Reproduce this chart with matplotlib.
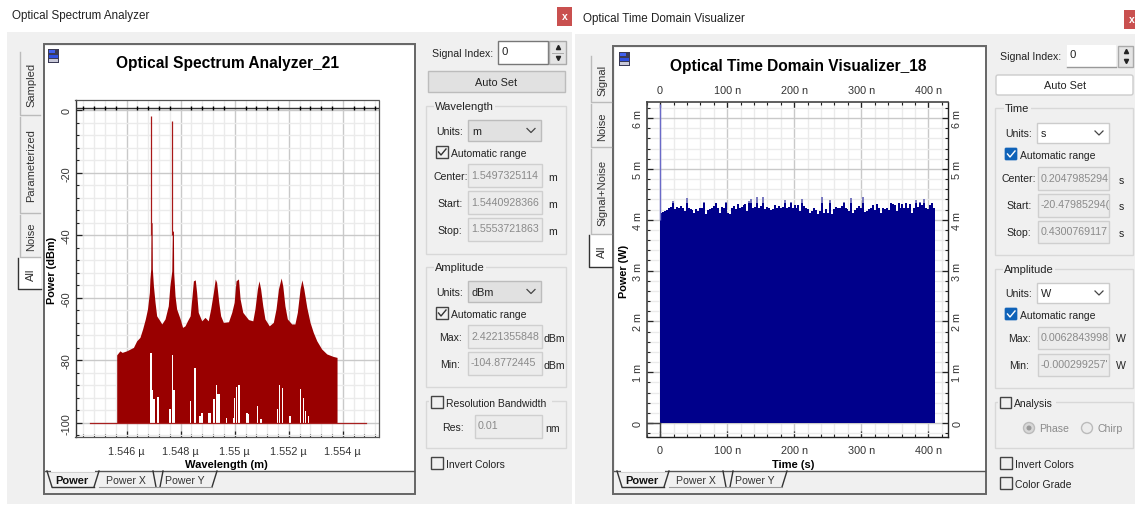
import numpy as np
import matplotlib
matplotlib.use("Agg")
import matplotlib.pyplot as plt
from matplotlib.patches import Rectangle, Circle, FancyBboxPatch

plt.rcParams["font.family"] = ["Liberation Sans", "DejaVu Sans"]

W, H = 1135, 506

# Optical spectrum (wavelength in micrometres, power in dBm)
spec_wl = [1.54563, 1.54563, 1.54575, 1.54583, 1.5460, 1.54625, 1.54637, 1.54649, 1.54659, 1.54669, 1.54677,
           1.54684, 1.54686, 1.54689, 1.5469, 1.54694, 1.54695, 1.54699, 1.54705, 1.54711, 1.54723, 1.5473,
           1.54742, 1.54754, 1.5476, 1.54767, 1.54769, 1.54773, 1.54774, 1.54779, 1.54785, 1.54798, 1.54807,
           1.54816, 1.54825, 1.54835, 1.54842, 1.54847, 1.54854, 1.54859, 1.54865, 1.54878, 1.5489, 1.54902,
           1.54911, 1.54921, 1.54928, 1.54933, 1.54941, 1.54948, 1.54958, 1.54977, 1.54989, 1.54998, 1.55005,
           1.55014, 1.5502, 1.5503, 1.55051, 1.55067, 1.55075, 1.55084, 1.5509, 1.55096, 1.55104, 1.55112,
           1.55128, 1.55143, 1.55153, 1.55162, 1.55172, 1.55178, 1.55186, 1.55195, 1.55211, 1.55223, 1.55232,
           1.55242, 1.55249, 1.55256, 1.55267, 1.55279, 1.55291, 1.55304, 1.55322, 1.55341, 1.55365, 1.55379,
           1.55379]
spec_db = [-100, -78.3, -77.0, -77.5, -77.0, -75.9, -73.8, -72.7, -70.0, -66.8, -63.6,
           -58.3, -54.0, -50.8, -36.0, -36.0, -50.8, -56.2, -61.5, -65.8, -67.4, -68.4,
           -66.8, -62.6, -56.2, -51.4, -38.7, -38.7, -51.9, -59.4, -63.6, -66.8, -69.5,
           -69.0, -67.4, -65.8, -59.4, -54.6, -54.3, -58.3, -64.7, -67.4, -66.3, -67.4,
           -63.6, -58.3, -54.0, -55.1, -61.5, -65.8, -67.9, -67.7, -64.7, -61.5, -54.6,
           -54.0, -60.4, -64.7, -67.0, -67.4, -63.6, -57.2, -54.6, -57.2, -62.6, -66.8,
           -69.0, -67.9, -63.6, -57.2, -53.7, -56.2, -62.6, -66.8, -68.4, -68.4, -64.7,
           -57.2, -54.3, -57.2, -63.1, -67.9, -71.1, -73.8, -76.4, -78.0, -78.8, -79.1,
           -100]
# the two carrier lines
line_wl = [1.546905, 1.547685]
line_db = [-1.8, -3.4]
# white gaps under the envelope
gap_wl = [1.54690, 1.54691, 1.54702, 1.54716, 1.5476, 1.54769, 1.54774, 1.54836, 1.54838, 1.54853, 1.54872,
          1.5488, 1.54906, 1.54923, 1.54933, 1.5494, 1.54968, 1.54995, 1.5500, 1.55007, 1.55016, 1.55046,
          1.55052, 1.55085, 1.55098, 1.55159, 1.55167, 1.55177, 1.55205, 1.55244, 1.55254, 1.55262, 1.55273]
gap_top = [-77.7, -89.4, -92.4, -91.9, -95.6, -78.3, -89.4, -96.5, -93.0, -82.6, -97.9,
           -96.8, -96.8, -92.4, -87.9, -90.8, -98.4, -98.4, -92.0, -88.7, -87.9, -96.8,
           -97.3, -94.8, -98.8, -95.6, -87.9, -89.0, -97.8, -89.2, -92.2, -96.2, -97.8]
gap_w = [.00004, .0001, .00007, .00005, .00006, .00003, .00009, .00004, .00004, .00004, .00007,
         .00006, .00009, .00006, .00004, .0001, .00004, .00005, .00004, .00005, .00005, .00007,
         .00004, .00004, .00007, .00006, .00005, .00005, .00005, .00004, .00005, .00004, .00003]
base_wl = [1.54464, 1.55485]
base_db = [-100, -100]
spec_xticks = [1.546, 1.548, 1.55, 1.552, 1.554]
spec_xlabels = ["1.546 µ", "1.548 µ", "1.55 µ", "1.552 µ", "1.554 µ"]
spec_yticks = [0, -20, -40, -60, -80, -100]
spec_ylabels = ["0", "-20", "-40", "-60", "-80", "-100"]

# Time domain trace: top edge of the noise in mW, one value per sample slot up to 409.6 ns
time_top = [4.14, 4.16, 4.18, 4.19, 4.24, 4.25, 4.36, 4.21, 4.25, 4.23, 4.27, 4.24, 4.18, 4.42, 4.23, 4.21, 4.19, 4.14,
            4.21, 4.18, 4.23, 4.24, 4.34, 4.12, 4.19, 4.21, 4.24, 4.27, 4.32, 4.23, 4.14, 4.25, 4.24, 4.34, 4.14, 4.11,
            4.23, 4.27, 4.21, 4.31, 4.23, 4.25, 4.29, 4.31, 4.18, 4.37, 4.40, 4.24, 4.25, 4.44, 4.23, 4.27, 4.45, 4.21,
            4.25, 4.24, 4.19, 4.21, 4.29, 4.24, 4.27, 4.23, 4.25, 4.39, 4.23, 4.25, 4.34, 4.24, 4.29, 4.23,
            4.29, 4.18, 4.40, 4.27, 4.24, 4.21, 4.14, 4.18, 4.24, 4.19, 4.12, 4.18, 4.44, 4.14, 4.21, 4.14, 4.39, 4.12,
            4.21, 4.25, 4.23, 4.24, 4.27, 4.34, 4.23, 4.21, 4.18, 4.42, 4.14, 4.19, 4.24, 4.27, 4.24, 4.45, 4.16, 4.18,
            4.21, 4.24, 4.29, 4.19, 4.31, 4.23, 4.14, 4.24, 4.21, 4.23, 4.19, 4.32, 4.31, 4.29, 4.18, 4.32, 4.23, 4.31,
            4.24, 4.32, 4.23, 4.31, 4.14, 4.23, 4.39, 4.25, 4.34, 4.29, 4.40, 4.24, 4.21, 4.29, 4.32, 4.23]
time_end = 409.6
spike_t = [0.0]
spike_mw = [6.28]
time_xticks = [0, 100, 200, 300, 400]
time_xlabels = ["0", "100 n", "200 n", "300 n", "400 n"]
time_yticks = [0, 1, 2, 3, 4, 5, 6]
time_ylabels = ["0", "1 m", "2 m", "3 m", "4 m", "5 m", "6 m"]

GREY = "#f0f0f0"
TXT = "#222222"


def add_axes_px(fig, x0, y0, x1, y1):
    return fig.add_axes([x0 / W, 1 - y1 / H, (x1 - x0) / W, (y1 - y0) / H])


fig = plt.figure(figsize=(W / 100, H / 100), dpi=100, facecolor="white")

# background layer in pixel coordinates, for the window chrome
bg = fig.add_axes([0, 0, 1, 1], zorder=0)
bg.set_xlim(0, W)
bg.set_ylim(H, 0)
bg.axis("off")


def rect(x0, y0, x1, y1, fc="none", ec="none", lw=1.0, z=1):
    bg.add_patch(Rectangle((x0, y0), x1 - x0, y1 - y0, fc=fc, ec=ec, lw=lw, zorder=z))


def txt(x, y, s, size=7.6, color=TXT, ha="left", rot=0, weight="normal", z=5):
    bg.text(x, y, s, fontsize=size, color=color, ha=ha, va="center", rotation=rot, fontweight=weight, zorder=z)


def chrome(px0, fx0, fx1, fy0, close_x, close_y, title, title_y, icon_x, icon_y):
    rect(px0, fy0 - 12, W if px0 > 300 else 572, 505, fc=GREY)
    txt(px0 + (5 if px0 < 300 else 8), title_y, title, size=8.35)
    rect(close_x, close_y, close_x + 15, close_y + 19, fc="#c9504f", z=2)
    txt(close_x + 7.5, close_y + 9, "x", color="white", ha="center", weight="bold", size=7.5)
    # chart frame
    rect(fx0, fy0, fx1, 495, fc=GREY, ec="#666666", lw=1.4)
    rect(fx0 + 1.5, fy0 + 2, fx1 - 1.5, 472, fc="white", z=2)
    bg.plot([fx0 + 1, fx1 - 1], [472, 472], color="#555555", lw=1, zorder=3)
    # small icon in the corner of the chart
    rect(icon_x, icon_y, icon_x + 11, icon_y + 14, fc="#3a3a55", z=3)
    rect(icon_x + 1, icon_y + 1, icon_x + 7, icon_y + 4, fc="#4060f0", z=4)
    rect(icon_x + 1, icon_y + 6, icon_x + 10, icon_y + 9, fc="#3050e0", z=4)
    rect(icon_x + 1, icon_y + 10, icon_x + 10, icon_y + 13, fc="#c8c8d8", z=4)


def bottom_tabs(x):
    # x is the left end of the Power tab
    tx = [[x, x + 5], [x + 47, x + 52], [x + 106, x + 109], [x + 113, x + 116], [x + 165, x + 170]]
    ty = [[472, 488], [488, 472], [472, 488], [488, 472], [488, 472]]
    for a, b in zip(tx, ty):
        bg.plot(a, b, color="#333333", lw=1, zorder=4)
    bg.plot([x + 5, x + 47], [488, 488], color="#333333", lw=1, zorder=4)
    bg.plot([x + 52, x + 165], [488, 488], color="#999999", lw=0.8, zorder=4)
    bg.plot([x + 5, x + 47], [472, 472], color="white", lw=1.4, zorder=4)
    txt(x + 8, 481, "Power", size=8, weight="bold", color="#111111")
    txt(x + 59, 481, "Power X", size=7.6, color="#333333")
    txt(x + 118, 481, "Power Y", size=7.6, color="#333333")


def side_tab(x0, x1, y0, y1, label, active=False):
    rect(x0, y0, x1, y1, fc="white" if active else GREY, z=2)
    bg.plot([x0, x0, x1], [y0, y1, y1], color="#333333" if active else "#bbbbbb", lw=1, zorder=3)
    txt((x0 + x1) / 2 + 1, (y0 + y1) / 2, label, size=8, rot=90, ha="center", color="#333333")


def group(x0, y0, x1, y1, label=None, lx=None):
    rect(x0, y0, x1, y1, ec="#d8d8d8", lw=1)
    if label:
        bg.text(lx, y0, label, fontsize=8, color=TXT, va="center", zorder=5,
                bbox=dict(fc=GREY, ec="none", pad=1))


def field(x0, y0, x1, y1, s, tx=None):
    rect(x0, y0, x1, y1, fc="#ececec", ec="#cfcfcf", lw=1, z=3)
    txt((x0 + 3) if tx is None else tx, (y0 + y1) / 2 - 1, s, size=7.7, color="#8a8a8a")


def combo(x0, y0, x1, y1, s, fc, ec):
    rect(x0, y0, x1, y1, fc=fc, ec=ec, lw=1, z=3)
    txt(x0 + 4, (y0 + y1) / 2, s, size=7.8)
    cx = x1 - 10
    cy = (y0 + y1) / 2
    bg.plot([cx - 4, cx, cx + 4], [cy - 2, cy + 2, cy - 2], color="#444444", lw=0.9, zorder=5)


def check(x0, y0, s, on=False, blue=False, size=12):
    if blue:
        bg.add_patch(FancyBboxPatch((x0 + 1, y0 + 1), size - 2, size - 2, boxstyle="round,pad=1", fc="#0f62b8",
                                    ec="#0f62b8", lw=0.5, zorder=3))
    else:
        rect(x0, y0, x0 + size, y0 + size, fc="none", ec="#444444", lw=1, z=3)
    if on:
        c = "white" if blue else "#333333"
        bg.plot([x0 + 2.5, x0 + 5, x0 + 10], [y0 + 6, y0 + 9, y0 + 3], color=c, lw=1, zorder=4)
    if s:
        txt(x0 + size + 3, y0 + size / 2 + 1, s, size=7.5)


# ---- left window
chrome(7, 43.5, 415, 44.5, 557, 8, "Optical Spectrum Analyzer", 16, 48, 50)
bottom_tabs(47)
side_tab(20, 40, 53, 116, "Sampled")
side_tab(20, 40, 118, 214, "Parameterized")
side_tab(20, 40, 216, 258, "Noise")
side_tab(18, 41, 259, 290, "All", active=True)
txt(228, 63, "Optical Spectrum Analyzer_21", size=11.2, weight="bold", ha="center", color="black")

txt(432, 54, "Signal Index:")
rect(498, 42, 548, 65, fc="white", ec="#777777", z=3)
txt(501, 52, "0", size=8.2)
rect(549, 42, 566, 65, fc="#e4e4e4", ec="#aaaaaa", z=3)
bg.plot([552, 563], [53.5, 53.5], color="#aaaaaa", lw=0.7, zorder=4)
bg.plot(557.5, 48, marker="^", ms=3, color="#222222", zorder=4)
bg.plot(557.5, 59, marker="v", ms=3, color="#222222", zorder=4)
rect(427.5, 72, 565, 93, fc="#e1e1e1", ec="#bcbcbc", z=3)
txt(496, 83, "Auto Set", ha="center", size=7.8)

group(426, 107, 566, 255, "Wavelength", 435)
txt(436, 132, "Units:")
combo(468, 121, 541, 142, "m", "#e1e1e1", "#bcbcbc")
check(436, 147, "Automatic range", on=True)
txt(434, 177, "Center:")
field(468, 165, 542, 188, "1.5497325114")
txt(553, 178, "m", ha="center")
txt(437, 204, "Start:")
field(468, 192, 542, 215, "1.5440928366")
txt(553, 205, "m", ha="center")
txt(437, 231, "Stop:")
field(468, 219, 542, 242, "1.5553721863")
txt(553, 232, "m", ha="center")

group(426, 268, 566, 388, "Amplitude", 435)
txt(436, 293, "Units:")
combo(468, 282, 541, 303, "dBm", "#e1e1e1", "#bcbcbc")
check(436, 308, "Automatic range", on=True)
txt(439, 338, "Max:")
field(468, 326, 542, 349, "2.4221355848")
txt(543, 339, "dBm")
txt(440, 365, "Min:")
field(468, 353, 542, 376, "-104.8772445")
txt(543, 366, "dBm")

group(426, 402, 566, 449)
rect(429, 396, 552, 408, fc=GREY, z=2)
check(431, 397, "Resolution Bandwidth")
txt(442, 428, "Res:")
field(475, 416, 542, 439, "0.01")
txt(553, 429, "nm", ha="center")
check(431, 458, "Invert Colors")

# ---- right window
chrome(575, 613, 986, 46.5, 1124, 11, "Optical Time Domain Visualizer", 19, 619, 53)
bottom_tabs(617)
side_tab(591, 611, 57, 103, "Signal")
side_tab(591, 611, 105, 148, "Noise")
side_tab(591, 611, 150, 235, "Signal+Noise")
side_tab(589, 612, 236, 268, "All", active=True)
txt(798, 66, "Optical Time Domain Visualizer_18", size=11.2, weight="bold", ha="center", color="black")

txt(1000, 57, "Signal Index:")
bg.plot([1067, 1116], [68, 68], color="#999999", lw=1, zorder=4)
rect(1067, 46, 1116, 68, fc="white", z=3)
txt(1069, 55, "0", size=8.2)
rect(1118, 47, 1133, 68, fc="#e4e4e4", ec="#aaaaaa", z=3)
bg.plot(1125.5, 52, marker="^", ms=3, color="#222222", zorder=4)
bg.plot(1125.5, 62, marker="v", ms=3, color="#222222", zorder=4)
bg.add_patch(FancyBboxPatch((998, 78), 133, 16, boxstyle="round,pad=2", fc="white", ec="#cccccc", lw=1, zorder=3))
txt(1065, 86, "Auto Set", ha="center", size=7.8)

group(995, 109, 1133, 256, "Time", 1005)
txt(1005, 134, "Units:")
combo(1037, 124, 1109, 144, "s", "white", "#cccccc")
check(1005, 149, "Automatic range", on=True, blue=True)
txt(1002, 179, "Center:")
field(1038, 168, 1109, 191, "0.2047985294")
txt(1121, 181, "s", ha="center")
txt(1006, 206, "Start:")
field(1038, 195, 1109, 218, "-20.47985294(")
txt(1121, 207, "s", ha="center")
txt(1006, 233, "Stop:")
field(1038, 222, 1109, 244, "0.4300769117")
txt(1121, 234, "s", ha="center")

group(995, 270, 1133, 389, "Amplitude", 1004)
txt(1005, 294, "Units:")
combo(1037, 284, 1109, 304, "W", "white", "#cccccc")
check(1005, 309, "Automatic range", on=True, blue=True)
txt(1008, 339, "Max:")
field(1038, 328, 1109, 350, "0.0062843998")
txt(1121, 339, "W", ha="center")
txt(1009, 366, "Min:")
field(1038, 355, 1109, 377, "-0.000299257'")
txt(1121, 366, "W", ha="center")

group(995, 403, 1133, 449)
rect(998, 397, 1056, 409, fc=GREY, z=2)
check(1000, 398, "Analysis", size=11)
bg.add_patch(Circle((1029, 429), 5.5, fc="#d8d8d8", ec="#bbbbbb", lw=1, zorder=3))
bg.add_patch(Circle((1029, 429), 2.5, fc="#9a9a9a", ec="none", zorder=4))
txt(1039, 429, "Phase", color="#8a8a8a")
bg.add_patch(Circle((1087, 429), 5.5, fc="#ececec", ec="#bbbbbb", lw=1, zorder=3))
txt(1097, 429, "Chirp", color="#8a8a8a")
check(1000, 458, "Invert Colors")
check(1000, 478, "Color Grade")

# ---- spectrum plot
ax1 = add_axes_px(fig, 75.5, 101, 379, 437.7)
ax1.set_zorder(2)
ax1.set_xlim(1.544104, 1.555344)
ax1.set_ylim(-104.48, 3.26)
ax1.set_axisbelow(True)
ax1.grid(which="major", color="#c9c9c9", lw=1)
ax1.grid(which="minor", color="#ebebeb", lw=1)
ax1.set_xticks(spec_xticks, spec_xlabels)
ax1.set_yticks(spec_yticks, spec_ylabels)
ax1.set_xticks(np.arange(1.5444, 1.5554, 0.0004), minor=True)
ax1.set_yticks(np.arange(-104, 1, 4), minor=True)
ax1.tick_params(axis="both", which="major", length=4, width=0.9, direction="in", color="#222222",
                labelsize=7.8, labelcolor="#333333", pad=6.5)
ax1.tick_params(axis="both", which="minor", length=2.5, width=0.8, direction="in", color="#222222")
ax1.tick_params(axis="y", labelrotation=90, pad=3)
for lab in ax1.get_yticklabels():
    lab.set_va("center")
ax1.fill_between(spec_wl, -100, spec_db, color="#990000", lw=0, zorder=3)
ax1.vlines(line_wl, -40, line_db, color="#a81818", lw=0.9, zorder=3)
ax1.bar(gap_wl, np.array(gap_top) + 100, gap_w, bottom=-100, color="white", lw=0, zorder=4)
ax1.plot(base_wl, base_db, color="#a82020", lw=0.9, zorder=5)
ax1.axhline(0.8, color="#333333", lw=1, zorder=3)
ax1.plot(ax1.get_xticks(minor=True), [0.8] * len(ax1.get_xticks(minor=True)), "|", color="black", ms=3.5, zorder=3)
ax1.spines["left"].set(color="#333333", lw=1)
for side in ["top", "right", "bottom"]:
    ax1.spines[side].set(color="#555555", lw=0.9, linestyle=(0, (1, 1)))
bg.text(226, 465, "Wavelength (m)", fontsize=8, fontweight="bold", ha="center", va="center", zorder=5)
bg.text(52, 270, "Power (dBm)", fontsize=7.8, fontweight="bold", rotation=90, ha="center", va="center", zorder=5)

# ---- time domain plot
ax2 = add_axes_px(fig, 646.7, 103.3, 948.3, 438.3)
ax2.set_zorder(2)
ax2.set_xlim(-19.8, 429.7)
ax2.set_ylim(-0.28, 6.31)
ax2.set_axisbelow(True)
ax2.grid(which="major", color="#c9c9c9", lw=1)
ax2.grid(which="minor", color="#ebebeb", lw=1)
ax2.set_xticks(time_xticks, time_xlabels)
ax2.set_yticks(time_yticks, time_ylabels)
ax2.set_xticks(np.arange(-20, 430, 20), minor=True)
ax2.set_yticks(np.arange(-0.2, 6.3, 0.2), minor=True)
ax2.tick_params(axis="both", which="both", top=True, right=True, direction="in", color="#222222")
ax2.tick_params(axis="both", which="major", length=4, width=0.9, labelsize=7.8, labelcolor="#333333",
                labeltop=True, labelright=True, pad=5.5)
ax2.tick_params(axis="both", which="minor", length=2.5, width=0.8)
ax2.tick_params(axis="y", labelrotation=90, pad=3)
for t in ax2.yaxis.get_major_ticks():
    t.label1.set_va("center")
    t.label2.set_va("center")
top = np.array(time_top)
edges = np.linspace(0, time_end, len(top) + 1)
ax2.stairs(top, edges, fill=True, color="#7a7ac0", lw=0, zorder=3)
ax2.stairs(np.minimum(top, 4.33), edges, fill=True, color="#00008b", lw=0, zorder=3)
ax2.vlines(spike_t, 4.0, spike_mw, color="#6a6ac8", lw=1, zorder=3)
ax2.plot([-19.8, 0], [0, 0], color="#444444", lw=1, zorder=3)
ax2.plot([0, 0], [-0.28, 0], color="#444444", lw=1, zorder=3)
for side in ["left", "top"]:
    ax2.spines[side].set(color="#444444", lw=1.2)
for side in ["right", "bottom"]:
    ax2.spines[side].set(color="#222222", lw=1, linestyle=(0, (1, 1)))
bg.text(793, 465, "Time (s)", fontsize=8, fontweight="bold", ha="center", va="center", zorder=5)
bg.text(624, 271, "Power (W)", fontsize=7.8, fontweight="bold", rotation=90, ha="center", va="center", zorder=5)

fig.savefig("out.png", dpi=100)
